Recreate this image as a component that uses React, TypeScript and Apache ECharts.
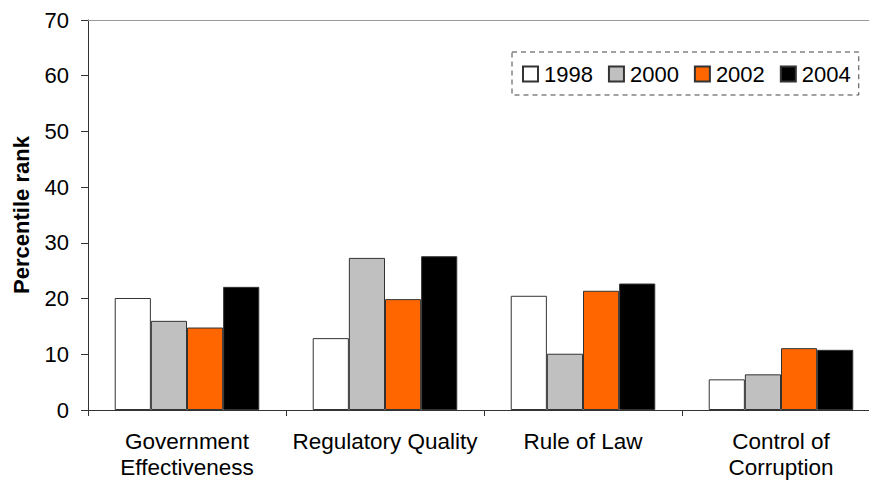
import React, { useEffect, useRef } from "react";
import * as echarts from "echarts";

const categories = [
  "Government\nEffectiveness",
  "Regulatory Quality",
  "Rule of Law",
  "Control of\nCorruption",
];
const years = ["1998", "2000", "2002", "2004"];
const values1998 = [20.1, 12.9, 20.5, 5.5];
const values2000 = [16.0, 27.3, 10.1, 6.4];
const values2002 = [14.8, 19.9, 21.4, 11.1];
const values2004 = [22.1, 27.6, 22.7, 10.8];
const seriesValues = [values1998, values2000, values2002, values2004];
const colors = ["#FFFFFF", "#C0C0C0", "#FF6600", "#000000"];

const FONT = "'Liberation Sans', Arial, sans-serif";

export default function App() {
  const ref = useRef<HTMLDivElement>(null);
  useEffect(() => {
    if (!ref.current) return;
    const chart = echarts.init(ref.current, undefined, { renderer: "svg" });
    chart.setOption({
      animation: false,
      backgroundColor: "#FFFFFF",
      textStyle: { fontFamily: FONT },
      grid: { left: 88, top: 20, width: 792, height: 390, containLabel: false },
      legend: {
        data: years,
        left: 512,
        top: 52,
        padding: [11, 8, 10, 10],
        itemGap: 15,
        itemWidth: 15,
        itemHeight: 15,
        icon: "rect",
        borderColor: "#444",
        borderWidth: 1,
        borderType: [5, 4],
        textStyle: { fontSize: 22, color: "#000", fontFamily: FONT, padding: [0, 0, 0, 1] },
      },
      xAxis: [
        {
          type: "category",
          data: categories,
          position: "bottom",
          axisLine: { show: true, lineStyle: { color: "#333", width: 1 } },
          axisTick: { show: true, alignWithLabel: false, length: 6, lineStyle: { color: "#333" } },
          axisLabel: {
            fontSize: 22.5,
            color: "#000",
            margin: 18,
            lineHeight: 26,
            interval: 0,
            fontFamily: FONT,
          },
        },
        {
          type: "category",
          data: categories,
          position: "top",
          axisLine: { show: true, lineStyle: { color: "#999", width: 1 } },
          axisTick: { show: false },
          axisLabel: { show: false },
        },
      ],
      yAxis: {
        type: "value",
        min: 0,
        max: 70,
        interval: 10,
        name: "Percentile rank",
        nameLocation: "middle",
        nameGap: 56,
        nameRotate: 90,
        nameTextStyle: { fontSize: 22, fontWeight: "bold", color: "#000", fontFamily: FONT },
        axisLine: { show: true, lineStyle: { color: "#333", width: 1 } },
        axisTick: { show: true, inside: false, length: 7, lineStyle: { color: "#333" } },
        axisLabel: { fontSize: 22, color: "#000", margin: 19, fontFamily: FONT },
        splitLine: { show: false },
      },
      series: years.map((y, i) => ({
        name: y,
        type: "bar",
        data: seriesValues[i],
        barGap: "0%",
        barCategoryGap: "27%",
        itemStyle: { color: colors[i], borderColor: "#333", borderWidth: 1 },
      })),
    });
    return () => chart.dispose();
  }, []);
  return (
    <div
      style={{ position: "absolute", left: 0, top: 0, width: 869, height: 483, overflow: "hidden", background: "#fff" }}
    >
      <div ref={ref} style={{ width: 900, height: 483 }} />
    </div>
  );
}
